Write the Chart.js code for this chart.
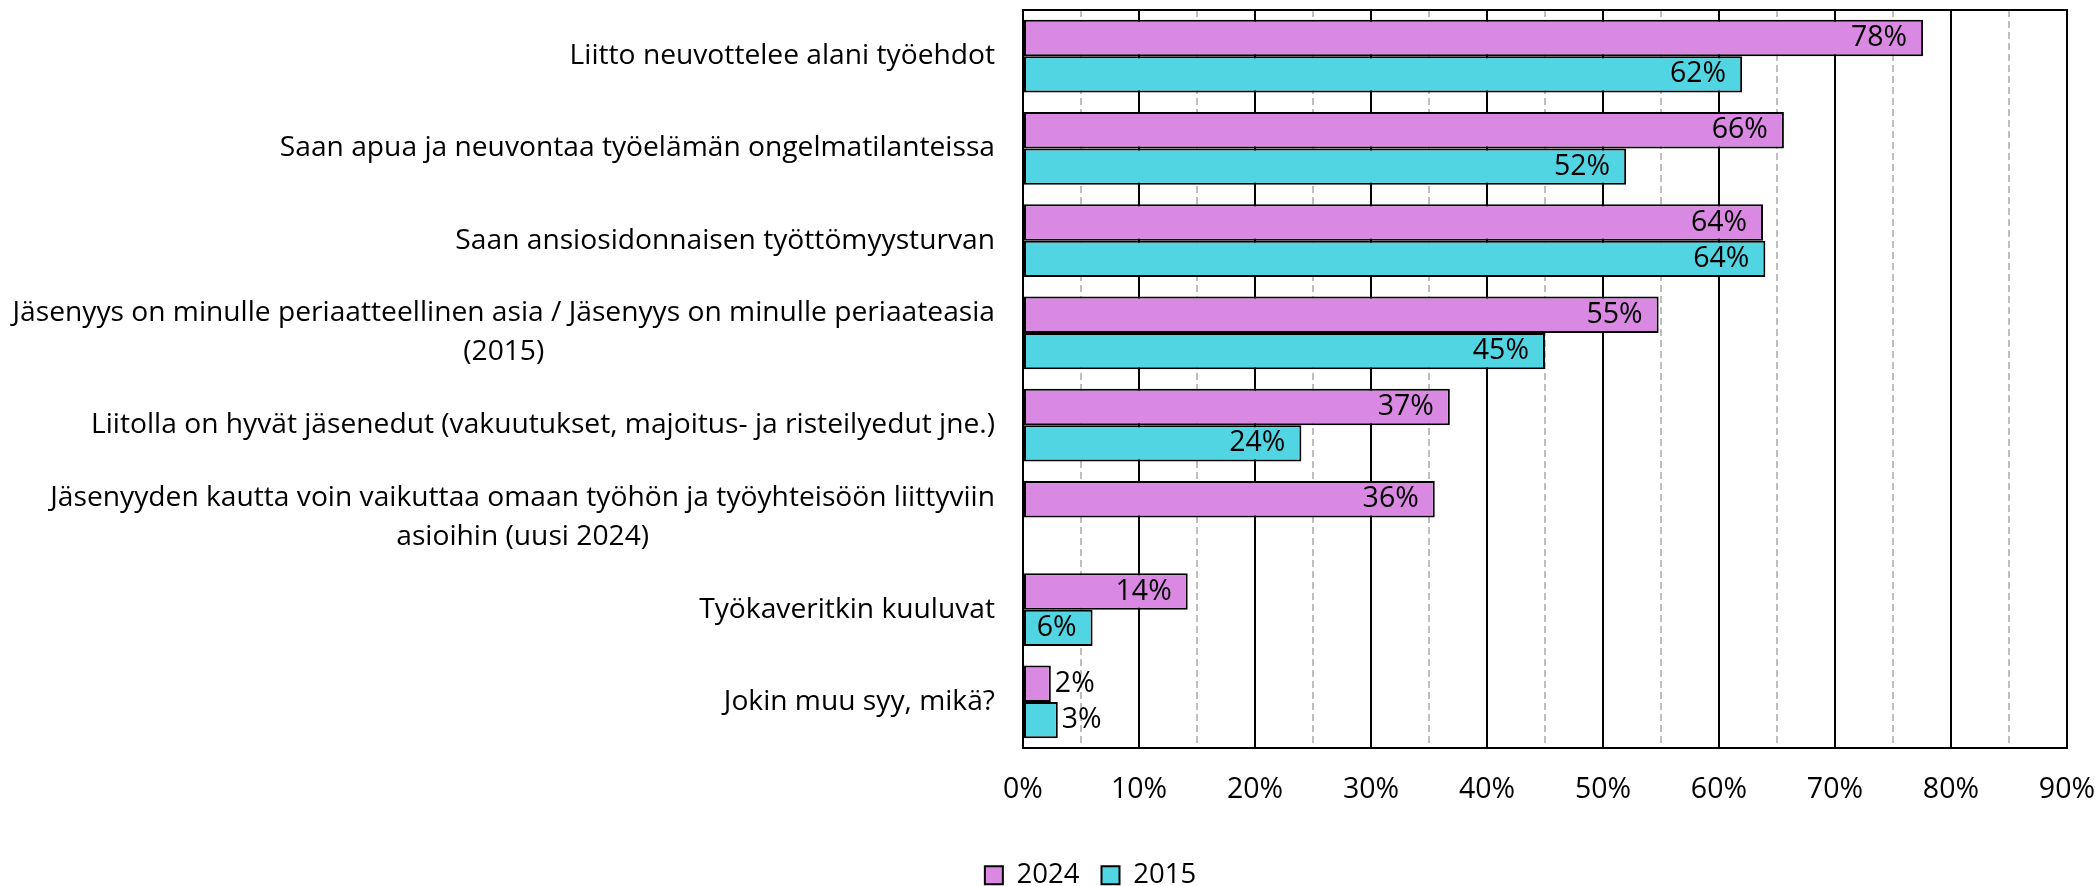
<!DOCTYPE html>
<html>
<head>
<meta charset="utf-8">
<script src="https://cdn.jsdelivr.net/npm/chart.js@4.4.1/dist/chart.umd.min.js"></script>
<style>
  html, body { margin: 0; padding: 0; background: #fff; }
  #wrap { width: 2097px; height: 886px; position: relative; }
</style>
</head>
<body>
<div id="wrap"><canvas id="reasons_chart"></canvas></div>
<script>
"use strict"

// categories, one array of lines per label
var categories = [
  ["Liitto neuvottelee alani työehdot"],
  ["Saan apua ja neuvontaa työelämän ongelmatilanteissa"],
  ["Saan ansiosidonnaisen työttömyysturvan"],
  ["Jäsenyys on minulle periaatteellinen asia / Jäsenyys on minulle periaateasia", "(2015)"],
  ["Liitolla on hyvät jäsenedut (vakuutukset, majoitus- ja risteilyedut jne.)"],
  ["Jäsenyyden kautta voin vaikuttaa omaan työhön ja työyhteisöön liittyviin", "asioihin (uusi 2024)"],
  ["Työkaveritkin kuuluvat"],
  ["Jokin muu syy, mikä?"]
];
var seriesNames = ["2024", "2015"];
var values2024 = [77.6, 65.6, 63.8, 54.8, 36.8, 35.5, 14.2, 2.4];
var values2015 = [62.0, 52.0, 64.0, 45.0, 24.0, null, 6.0, 3.0];
var xTickValues = [0, 10, 20, 30, 40, 50, 60, 70, 80, 90];

Chart.defaults.font.family = '"Open Sans", "Noto Sans", sans-serif';
Chart.defaults.color = '#000';

function isMinor(c) {
  return c.tick && xTickValues.indexOf(c.tick.value) < 0;
}

// category labels, value labels, top frame line, legend placement
var labelsPlugin = {
  id: 'labelsPlugin',
  afterLayout: function(chart) {
    var lg = chart.legend;
    lg.left += 43; lg.right += 43;
    lg.top += 13; lg.bottom += 13;
  },
  afterDraw: function(chart) {
    var ctx = chart.ctx;
    var area = chart.chartArea;
    var yScale = chart.scales.y;
    ctx.save();

    ctx.strokeStyle = '#000';
    ctx.lineWidth = 2;
    ctx.beginPath();
    ctx.moveTo(area.left - 1, area.top);
    ctx.lineTo(area.right + 1, area.top);
    ctx.stroke();

    ctx.fillStyle = '#000';
    ctx.textBaseline = 'middle';
    ctx.textAlign = 'center';
    ctx.font = '28.2px "Open Sans"';
    categories.forEach(function(lines, i) {
      var y = yScale.getPixelForValue(i);
      var w = Math.max.apply(null, lines.map(function(l) { return ctx.measureText(l).width; }));
      var cx = area.left - 28 - w / 2;
      lines.forEach(function(l, j) {
        ctx.fillText(l, cx, y + (j - (lines.length - 1) / 2) * 39);
      });
    });

    ctx.font = '28.5px "Open Sans"';
    chart.data.datasets.forEach(function(ds, di) {
      chart.getDatasetMeta(di).data.forEach(function(bar, i) {
        var v = ds.data[i];
        if (v === null || v === undefined) return;
        var txt = Math.round(v) + '%';
        var tw = ctx.measureText(txt).width;
        if (bar.x - bar.base > tw + 20) {
          ctx.textAlign = 'right';
          ctx.fillText(txt, bar.x - 16, bar.y);
        } else {
          ctx.textAlign = 'left';
          ctx.fillText(txt, bar.x + 4, bar.y);
        }
      });
    });
    ctx.restore();
  }
};

var reasons_config = {
  type: 'bar',
  data: {
    labels: categories,
    datasets: [{
      label: seriesNames[0],
      data: values2024,
      backgroundColor: '#DA89E3',
      borderColor: '#000',
      borderWidth: 2,
      borderSkipped: false,
      categoryPercentage: 0.79,
      barPercentage: 1.0
    }, {
      label: seriesNames[1],
      data: values2015,
      backgroundColor: '#52D5E3',
      borderColor: '#000',
      borderWidth: 2,
      borderSkipped: false,
      categoryPercentage: 0.79,
      barPercentage: 1.0
    }]
  },
  options: {
    indexAxis: 'y',
    responsive: true,
    maintainAspectRatio: false,
    animation: false,
    layout: {
      padding: { top: 10, right: 2, left: 0, bottom: 0 }
    },
    plugins: {
      tooltip: { enabled: false },
      legend: {
        display: true,
        position: 'bottom',
        labels: {
          boxWidth: 18,
          boxHeight: 18,
          padding: 22,
          color: '#000',
          font: { size: 27.5 }
        }
      }
    },
    scales: {
      x: {
        type: 'linear',
        min: 0,
        max: 90,
        afterFit: function(s) { s.height = 78.5; },
        ticks: {
          stepSize: 5,
          autoSkip: false,
          maxRotation: 0,
          padding: 2,
          font: { size: 28.5 },
          callback: function(v) {
            return xTickValues.indexOf(v) >= 0 ? v + '%' : '';
          }
        },
        grid: {
          drawTicks: true,
          tickLength: 23,
          tickColor: 'rgba(0,0,0,0)',
          lineWidth: 2,
          color: function(c) { return isMinor(c) ? '#BFBFBF' : '#000'; }
        },
        border: {
          color: '#000',
          width: 2,
          dash: function(c) { return isMinor(c) ? [7, 4] : []; }
        }
      },
      y: {
        type: 'category',
        afterFit: function(s) { s.width = 1023; },
        ticks: { display: false },
        grid: { display: false, drawTicks: false },
        border: { color: '#000', width: 2 }
      }
    }
  },
  plugins: [labelsPlugin]
};

var reasons_ctx = document.getElementById('reasons_chart').getContext('2d');
var reasons_chart = new Chart(reasons_ctx, reasons_config);
</script>
</body>
</html>
